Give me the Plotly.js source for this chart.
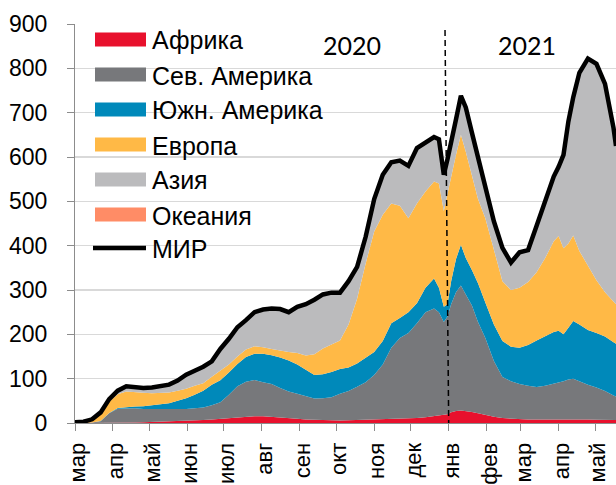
<!DOCTYPE html>
<html>
<head>
<meta charset="utf-8">
<script src="https://cdn.plot.ly/plotly-3.0.1.min.js"></script>
<style>
html,body{margin:0;padding:0;background:#fff;}
#chart{width:616px;height:485px;}
</style>
</head>
<body>
<div id="chart"></div>
<script>
// ---- data (thousands of new cases per day) ----
const dates = [
 '2020-03-01','2020-03-08','2020-03-15','2020-03-22','2020-03-29',
 '2020-04-05','2020-04-12','2020-04-19','2020-04-26',
 '2020-05-03','2020-05-10','2020-05-17','2020-05-24','2020-05-31',
 '2020-06-07','2020-06-14','2020-06-21','2020-06-28',
 '2020-07-05','2020-07-12','2020-07-19','2020-07-26',
 '2020-08-02','2020-08-09','2020-08-16','2020-08-23','2020-08-30',
 '2020-09-06','2020-09-13','2020-09-20','2020-09-27',
 '2020-10-04','2020-10-11','2020-10-18','2020-10-25',
 '2020-11-01','2020-11-08','2020-11-15','2020-11-22','2020-11-29',
 '2020-12-06','2020-12-13','2020-12-20','2020-12-24','2020-12-28','2020-12-31',
 '2021-01-03','2021-01-07','2021-01-11','2021-01-15','2021-01-20','2021-01-25','2021-01-31',
 '2021-02-07','2021-02-14','2021-02-21','2021-02-28',
 '2021-03-07','2021-03-14','2021-03-21','2021-03-28',
 '2021-04-01','2021-04-05','2021-04-09','2021-04-13','2021-04-18','2021-04-25',
 '2021-05-02','2021-05-09','2021-05-16','2021-05-18'
];
const africa = [
 0,0,0.1,0.2,0.5,
 0.8,1,1.3,1.8,
 2.3,2.8,3.3,4,4.5,
 5.5,6.5,8,9.5,
 11,13,14,15,
 15,14,13,11,9.5,
 8,7,6,5.5,
 5.5,6,6.5,7,
 7.5,8,9,9.5,10,
 11,13,16,18,19,20,
 24,27,28,27,25,22,18,
 14,11,9.5,8.5,
 8,8,8,8,
 8.5,9,9.5,9,8.5,8,
 7.5,7,7,7
];
const northAmerica = [
 0,0.1,0.8,3.8,21.3,
 31.2,32,31.7,29.8,
 29.3,28.2,28.3,27.6,27.1,
 27.5,28.5,32,37.2,
 53,70,79,82,
 77,74,66,60,56.5,
 52,48,50,52.5,
 60.5,66,75.5,85,
 100.5,124,161,182.5,193,
 214,237,242,232,209,220,
 244,268,282,263,240,206,174,
 126,93,84.5,79.5,
 76,73,76,80,
 81.5,85,88.5,91,85.5,78,
 72.5,65,55,53
];
const southAmerica = [
 0,0,0.1,0.5,0.7,
 2,3,4,6,
 8.4,11,12.8,18.4,24.1,
 31,38,46,50,
 50,50,56,59,
 64,65,69,70,66,
 60,53,54,57,
 56,53,52,54,
 52,53,55,45,47,
 45,55,68,55,34,28,
 52,75,92,82,80,87,80,
 82,81,78,82,
 92,105,111,117,
 118,106,117,130,128,124,
 123,123,120,119
];
const europe = [
 0.3,1.5,5.5,15.5,25.5,
 31,35,32,30.4,
 27,26,24.6,23,21.8,
 20,16.6,18.6,21,
 18,17,17,17,
 15,14,15,19,26,
 32,47,58,62,
 64,97,146,214,
 272,285,270,253,212,
 225,217,219,235,216,252,
 235,235,248,240,215,190,190,
 168,135,128,135,
 142,154,177,205,
 214,194,190,193,166,145,
 119,100,90,89
];
const asia = [
 1.2,1.4,1.7,3.8,5.6,
 7.6,11.8,11.4,10.9,
 13,15,17.5,22.6,31.5,
 34,37.4,34.4,49.2,
 57.9,65.8,65.6,76.5,
 84.5,90.5,93.6,89.7,103.8,
 115.9,122.9,121.9,116.9,
 107.9,97.9,71.9,59.9,
 72.8,89.8,92.8,101.8,117.8,
 124.8,111.8,99.8,99.8,81.8,74.8,
 74.9,79.9,87.9,99.9,94.9,94.9,77.9,
 64.9,74.9,61.9,79.9,
 71.9,104.9,127.9,145.9,
 155.9,210.9,274.9,311.9,401.9,466.9,
 487.9,469.9,392.9,356.9
];
const oceania = [
 0,0,0.1,0.2,0.4,
 0.4,0.2,0.1,0.1,
 0,0,0,0,0,
 0,0,0,0.1,
 0.1,0.2,0.4,0.5,
 0.5,0.5,0.4,0.3,0.2,
 0.1,0.1,0.1,0.1,
 0.1,0.1,0.1,0.1,
 0.2,0.2,0.2,0.2,0.2,
 0.2,0.2,0.2,0.2,0.2,0.2,
 0.1,0.1,0.1,0.1,0.1,0.1,0.1,
 0.1,0.1,0.1,0.1,
 0.1,0.1,0.1,0.1,
 0.1,0.1,0.1,0.1,0.1,0.1,
 0.1,0.1,0.1,0.1
];
const world = [
 1.5,3,8.3,24,54,
 73,83,80.5,79,
 80,83,86.5,95.6,109,
 118,127,139,167,
 190,216,232,250,
 256,258,257,250,262,
 268,278,290,294,
 294,320,352,420,
 505,560,588,592,580,
 620,634,645,640,560,595,
 630,685,738,712,655,600,540,
 455,395,362,385,
 390,445,500,556,
 578,605,680,735,790,822,
 810,765,665,625
];
const regionNames = ['Африка','Сев. Америка','Южн. Америка','Европа','Азия','Океания'];
const worldName = 'МИР';
const monthTicks = [
 '2020-03-01','2020-04-01','2020-05-01','2020-06-01','2020-07-01','2020-08-01',
 '2020-09-01','2020-10-01','2020-11-01','2020-12-01','2021-01-01','2021-02-01',
 '2021-03-01','2021-04-01','2021-05-01'
];
const monthLabels = ['мар','апр','май','июн','июл','авг','сен','окт','ноя','дек','янв','фев','мар','апр','май'];
const yearLabels = ['2020','2021'];
const yearLabelDates = ['2020-10-14','2021-03-06'];
const yearDivider = ['2020-12-29','2021-01-01'];

// ---- styling ----
const regionColors = ['#E8112D','#77787B','#0089BA','#FFB946','#BBBBBD','#FF8C66'];
const W = 616, H = 485, M = {l:75, r:0, t:24, b:62};
const pw = W - M.l - M.r, ph = H - M.t - M.b;
const px = x => (x - M.l) / pw;
const py = y => (H - M.b - y) / ph;
const font = 'Liberation Sans, Arial, sans-serif';

const regionSeries = [africa, northAmerica, southAmerica, europe, asia, oceania];
const traces = regionSeries.map((s, i) => ({
  x: dates, y: s, name: regionNames[i], type: 'scatter', mode: 'lines',
  stackgroup: 'one', line: {width: 0, color: regionColors[i]},
  fillcolor: regionColors[i], showlegend: false, hoverinfo: 'skip'
}));
traces.push({
  x: dates, y: world, name: worldName, type: 'scatter', mode: 'lines',
  line: {color: '#000000', width: 4.5}, showlegend: false, hoverinfo: 'skip'
});

const shapes = [];
const annotations = [];
const legTop = 39.5, legStep = 35;
regionNames.forEach((name, i) => {
  const cy = legTop + legStep * i;
  shapes.push({type: 'rect', xref: 'paper', yref: 'paper',
    x0: px(95), x1: px(146), y0: py(cy + 7), y1: py(cy - 7),
    fillcolor: regionColors[i], line: {width: 0}});
  annotations.push({xref: 'paper', yref: 'paper', x: px(150), y: py(cy + 1),
    xanchor: 'left', yanchor: 'middle', text: name, showarrow: false,
    font: {family: font, size: 25, color: '#000'}});
});
const wy = legTop + legStep * 6 - 1.5;
shapes.push({type: 'line', xref: 'paper', yref: 'paper',
  x0: px(93), x1: px(146), y0: py(wy), y1: py(wy),
  line: {color: '#000', width: 4.5}});
annotations.push({xref: 'paper', yref: 'paper', x: px(150), y: py(wy + 1),
  xanchor: 'left', yanchor: 'middle', text: worldName, showarrow: false,
  font: {family: font, size: 25, color: '#000'}});

yearLabels.forEach((t, i) => {
  annotations.push({xref: 'x', yref: 'paper', x: yearLabelDates[i], y: py(45),
    xanchor: 'center', yanchor: 'middle', text: t, showarrow: false,
    font: {family: 'Lato, Carlito, sans-serif', size: 25, color: '#000'}});
});
shapes.push({type: 'line', xref: 'x', yref: 'paper',
  x0: yearDivider[0], x1: yearDivider[1], y0: py(30), y1: 0,
  line: {color: '#000', width: 1.5, dash: '6px,4px'}});

const layout = {
  width: W, height: H,
  margin: {l: M.l, r: M.r, t: M.t, b: M.b, pad: 0},
  paper_bgcolor: '#fff', plot_bgcolor: '#fff',
  showlegend: false,
  xaxis: {
    type: 'date', range: ['2020-03-01', '2021-05-18'],
    tickmode: 'array', tickvals: monthTicks, ticktext: monthLabels,
    tickangle: -90, ticks: 'outside', ticklen: 7, tickwidth: 1, tickcolor: '#8C8C8C',
    showline: true, linecolor: '#8C8C8C', linewidth: 1,
    showgrid: false, zeroline: false, ticklabelstandoff: 3, ticklabelshift: 3,
    tickfont: {family: font, size: 22, color: '#000'}
  },
  yaxis: {
    range: [0, 900], tickmode: 'array', tickvals: [0,100,200,300,400,500,600,700,800,900],
    ticks: 'outside', ticklen: 7, tickwidth: 1, tickcolor: '#8C8C8C',
    showline: true, linecolor: '#8C8C8C', linewidth: 1,
    showgrid: true, gridcolor: '#D9D9D9', gridwidth: 1.5, zeroline: false,
    ticklabelstandoff: 15,
    tickfont: {family: font, size: 23, color: '#000'}
  },
  shapes: shapes,
  annotations: annotations
};

Plotly.newPlot('chart', traces, layout, {staticPlot: true, displayModeBar: false});
</script>
</body>
</html>
